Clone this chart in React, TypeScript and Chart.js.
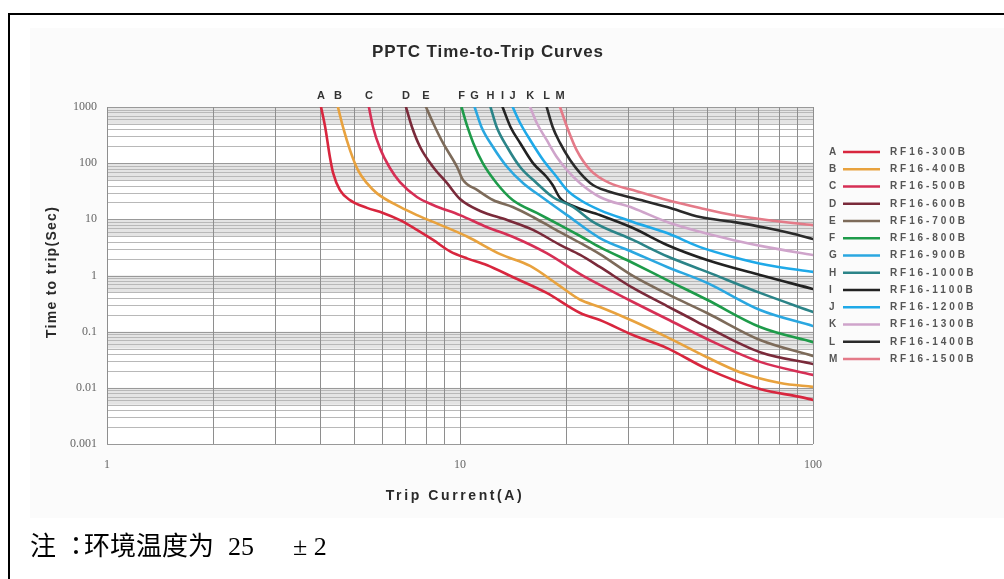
import React, { useEffect, useRef } from "react";
import { Chart, registerables } from "chart.js";

Chart.register(...registerables);

// ---- data ----
const curveLetters = ["A", "B", "C", "D", "E", "F", "G", "H", "I", "J", "K", "L", "M"];
const partNumbers = [
  "RF16-300B", "RF16-400B", "RF16-500B", "RF16-600B", "RF16-700B", "RF16-800B", "RF16-900B",
  "RF16-1000B", "RF16-1100B", "RF16-1200B", "RF16-1300B", "RF16-1400B", "RF16-1500B",
];
const curveColors = [
  "#d8263e", "#e8a23e", "#d62f55", "#7a2a3a", "#7d6b5a", "#1e9b4a", "#2aa7e0",
  "#2b8488", "#222222", "#1fa9e8", "#cfa4cb", "#2a2a2a", "#e47a88",
];

const aCurrent = [4.04, 4.15, 4.28, 4.37, 4.57, 4.88, 5.45, 6.05, 6.76, 7.55, 8.39, 9.37, 10.5, 11.9, 14.1, 17.6, 21.9, 24.9, 30.9, 38.6, 50.1, 70.8, 91.8, 100];
const aTime = [1000, 441, 129, 67, 33, 22, 16, 13, 9.7, 6.5, 4.3, 2.7, 2.0, 1.54, 0.94, 0.49, 0.215, 0.161, 0.087, 0.051, 0.0217, 0.0095, 0.0069, 0.0061];

const bCurrent = [4.51, 4.66, 4.88, 5.14, 5.45, 5.82, 6.76, 7.55, 8.39, 10.5, 13.0, 15.8, 18.8, 21.9, 24.9, 30.9, 38.6, 50.1, 62.1, 80.7, 100];
const bTime = [1000, 441, 171, 75, 44, 29, 16.6, 11.9, 9.0, 4.9, 2.4, 1.48, 0.71, 0.37, 0.275, 0.155, 0.08, 0.035, 0.019, 0.0122, 0.0104];

const cCurrent = [5.52, 5.67, 5.93, 6.33, 6.76, 7.55, 8.39, 10.0, 11.9, 14.1, 17.6, 21.9, 24.9, 30.9, 38.6, 50.1, 70.8, 100];
const cTime = [1000, 441, 186, 82, 46, 25, 18, 11.9, 7.3, 4.9, 2.5, 1.06, 0.68, 0.337, 0.168, 0.074, 0.029, 0.017];

const dCurrent = [7.03, 7.31, 7.71, 8.39, 9.19, 10.0, 11.4, 13.6, 16.1, 19.2, 21.9, 24.9, 30.9, 38.6, 44.8, 50.1, 70.8, 100];
const dTime = [1000, 441, 194, 85.5, 44, 23, 14.1, 9.7, 6.5, 3.5, 2.32, 1.42, 0.6, 0.286, 0.175, 0.121, 0.043, 0.0266];

const eCurrent = [8.01, 8.39, 8.95, 9.81, 10.2, 11.2, 12.4, 14.1, 16.1, 18.3, 21.9, 24.9, 30.9, 38.6, 50.1, 70.8, 100];
const eTime = [1000, 519, 229, 85.5, 50.1, 33.2, 22.1, 16.6, 11, 7.0, 3.8, 2.4, 0.98, 0.47, 0.215, 0.071, 0.037];

const fCurrent = [10.1, 10.5, 10.9, 11.6, 12.7, 14.1, 16.5, 19.2, 21.9, 24.9, 30.9, 38.6, 50.1, 70.8, 100];
const fTime = [1000, 441, 229, 100, 44, 22.1, 13, 7.9, 5.05, 3.2, 1.67, 0.83, 0.37, 0.121, 0.065];

const gCurrent = [11.0, 11.5, 12.4, 13.6, 15.1, 17.2, 20.1, 24.9, 30.9, 38.6, 50.1, 70.8, 100];
const gTime = [1000, 441, 194, 85.5, 44, 24, 11.9, 4.65, 2.6, 1.42, 0.74, 0.243, 0.126];

const hCurrent = [12.2, 12.7, 13.6, 14.8, 16.5, 18.3, 20.9, 23.8, 30.9, 38.6, 50.1, 70.8, 100];
const hTime = [1000, 441, 194, 85.5, 44, 25, 16.6, 9.0, 4.3, 2.2, 1.16, 0.49, 0.224];

const iCurrent = [13.2, 13.9, 14.8, 16.1, 17.6, 18.3, 19.2, 20.9, 24.9, 30.9, 38.6, 50.1, 70.8, 100];
const iTime = [1000, 441, 229, 100, 56.7, 40.8, 24, 17.3, 11.9, 7.0, 3.5, 1.89, 1.02, 0.575];

const jCurrent = [14.1, 14.8, 15.8, 17.2, 18.8, 20.1, 21.9, 24.9, 30.9, 38.6, 47.9, 59.3, 74.1, 100];
const jTime = [1000, 519, 259, 114, 56.7, 33.2, 22.1, 14.6, 9.0, 5.7, 3.2, 2.14, 1.54, 1.16];

const kCurrent = [15.8, 16.5, 17.6, 18.8, 20.1, 21.9, 24.9, 30.9, 38.6, 47.9, 59.3, 74.1, 100];
const kTime = [1000, 519, 259, 129, 75.5, 44, 25, 15.9, 9.0, 6.0, 4.3, 3.2, 2.32];

const lCurrent = [17.6, 18.3, 19.2, 20.5, 21.9, 23.8, 26.1, 30.9, 38.6, 47.9, 59.3, 74.1, 86.1, 100];
const lTime = [1000, 441, 229, 114, 66.8, 40.8, 32, 24, 16.6, 11, 9.0, 7.0, 5.7, 4.47];

const mCurrent = [19.2, 20.1, 21.4, 23.4, 26.6, 30.9, 38.6, 47.9, 59.3, 74.1, 100];
const mTime = [1000, 441, 171, 75.5, 44, 33.2, 22.1, 15.9, 11.9, 9.7, 7.9];

const yTickValues = [0.001, 0.01, 0.1, 1, 10, 100, 1000];
const yTickLabels = ["0.001", "0.01", "0.1", "1", "10", "100", "1000"];
const xTickValues = [1, 10, 100];
const xTickLabels = ["1", "10", "100"];
const minorSteps = [1, 2, 3, 4, 5, 6, 7, 8, 9];

const chartTitle = "PPTC Time-to-Trip Curves";
const xTitle = "Trip Current(A)";
const yTitle = "Time to trip(Sec)";
const noteHead = "注";
const noteColon = "：";
const noteCn = "环境温度为";
const noteTemp = "25";
const noteTol = "± 2";

const seriesCurrent = [aCurrent, bCurrent, cCurrent, dCurrent, eCurrent, fCurrent, gCurrent, hCurrent, iCurrent, jCurrent, kCurrent, lCurrent, mCurrent];
const seriesTime = [aTime, bTime, cTime, dTime, eTime, fTime, gTime, hTime, iTime, jTime, kTime, lTime, mTime];

function labelFor(values: number[], labels: string[], v: number): string {
  const idx = values.findIndex((t) => Math.abs(Math.log10(t) - Math.log10(v)) < 1e-6);
  return idx >= 0 ? labels[idx] : "";
}

const framePlugin = {
  id: "pptcFrame",
  beforeDraw(chart: any) {
    const { ctx, width, height } = chart;
    ctx.save();
    ctx.fillStyle = "#ffffff";
    ctx.fillRect(0, 0, width, height);
    ctx.fillStyle = "#fbfbfb";
    ctx.fillRect(30, 28, width - 30, 490);
    ctx.fillStyle = "#000000";
    ctx.fillRect(8, 13, 2, height - 13);
    ctx.fillRect(8, 13, width - 8, 2);
    ctx.restore();
  },
};

const gridPlugin = {
  id: "pptcGrid",
  beforeDatasetsDraw(chart: any) {
    const { ctx, chartArea: a, scales } = chart;
    const xs = scales.x;
    const ys = scales.y;
    ctx.save();
    ctx.fillStyle = "#ffffff";
    ctx.fillRect(a.left, a.top, a.right - a.left, a.bottom - a.top);
    // grey bands under each decade
    ctx.fillStyle = "#e4e4e4";
    for (const d of yTickValues) {
      if (d <= yTickValues[0]) continue;
      const top = ys.getPixelForValue(d);
      const bot = ys.getPixelForValue(d / 2);
      ctx.fillRect(a.left, top, a.right - a.left, bot - top);
    }
    ctx.lineWidth = 1;
    // horizontal lines
    const hLines: number[] = [];
    for (let i = 0; i < yTickValues.length - 1; i++) {
      for (const m of minorSteps) hLines.push(yTickValues[i] * m);
    }
    hLines.push(yTickValues[yTickValues.length - 1]);
    for (const v of hLines) {
      const y = Math.round(ys.getPixelForValue(v)) + 0.5;
      const isDecade = yTickValues.some((t) => Math.abs(t - v) / t < 1e-9);
      ctx.strokeStyle = isDecade ? "#999999" : "#b8b8b8";
      ctx.beginPath();
      ctx.moveTo(a.left, y);
      ctx.lineTo(a.right, y);
      ctx.stroke();
    }
    // vertical lines
    const vLines: number[] = [];
    for (let i = 0; i < xTickValues.length - 1; i++) {
      for (const m of minorSteps) vLines.push(xTickValues[i] * m);
    }
    vLines.push(xTickValues[xTickValues.length - 1]);
    ctx.strokeStyle = "#8e8e8e";
    for (const v of vLines) {
      const x = Math.round(xs.getPixelForValue(v)) + 0.5;
      ctx.beginPath();
      ctx.moveTo(x, a.top);
      ctx.lineTo(x, a.bottom);
      ctx.stroke();
    }
    ctx.restore();
  },
};

const textPlugin = {
  id: "pptcText",
  afterDraw(chart: any) {
    const { ctx, chartArea: a, scales } = chart;
    const xs = scales.x;
    ctx.save();
    // title
    ctx.fillStyle = "#2a2a2a";
    ctx.font = "bold 17px 'Liberation Sans', Arial, sans-serif";
    ctx.textAlign = "center";
    ctx.textBaseline = "alphabetic";
    (ctx as any).letterSpacing = "0.9px";
    ctx.fillText(chartTitle, 488, 57);

    // curve letters along the top
    (ctx as any).letterSpacing = "0px";
    ctx.font = "bold 11px 'Liberation Sans', Arial, sans-serif";
    ctx.fillStyle = "#333333";
    ctx.textBaseline = "middle";
    chart.data.datasets.forEach((ds: any, i: number) => {
      const x = xs.getPixelForValue(ds.data[0].x);
      ctx.fillText(curveLetters[i], x, a.top - 11);
    });

    // legend
    const legTop = 152;
    const legStep = 17.25;
    chart.data.datasets.forEach((ds: any, i: number) => {
      const y = legTop + i * legStep;
      ctx.textAlign = "left";
      ctx.textBaseline = "middle";
      ctx.fillStyle = "#555555";
      ctx.font = "bold 10px 'Liberation Sans', Arial, sans-serif";
      (ctx as any).letterSpacing = "0px";
      ctx.fillText(curveLetters[i], 829, y);
      ctx.strokeStyle = ds.borderColor;
      ctx.lineWidth = 2.5;
      ctx.beginPath();
      ctx.moveTo(843, y);
      ctx.lineTo(880, y);
      ctx.stroke();
      (ctx as any).letterSpacing = "2.9px";
      ctx.fillText(ds.label, 890, y);
    });

    // axis titles
    ctx.fillStyle = "#2a2a2a";
    ctx.font = "bold 14px 'Liberation Sans', Arial, sans-serif";
    ctx.textAlign = "center";
    ctx.textBaseline = "middle";
    (ctx as any).letterSpacing = "2.6px";
    ctx.fillText(xTitle, 455, 496);
    ctx.save();
    ctx.translate(52, 272);
    ctx.rotate(-Math.PI / 2);
    (ctx as any).letterSpacing = "1.3px";
    ctx.fillText(yTitle, 0, 0);
    ctx.restore();

    // note
    (ctx as any).letterSpacing = "0px";
    ctx.textAlign = "left";
    ctx.textBaseline = "alphabetic";
    ctx.fillStyle = "#000000";
    ctx.font = "26px 'Noto Sans CJK SC', sans-serif";
    ctx.fillText(noteHead, 30, 555);
    ctx.font = "26px 'Noto Sans CJK TC', 'Noto Sans CJK JP', sans-serif";
    ctx.fillText(noteColon, 63, 555);
    ctx.font = "26px 'Noto Sans CJK SC', sans-serif";
    ctx.fillText(noteCn, 84, 555);
    ctx.font = "26px 'Liberation Serif', 'Times New Roman', serif";
    ctx.fillText(noteTemp, 228, 555);
    ctx.fillText(noteTol, 293, 555);
    ctx.restore();
  },
};

export default function App() {
  const canvasRef = useRef<HTMLCanvasElement | null>(null);

  useEffect(() => {
    const canvas = canvasRef.current;
    if (!canvas) return;
    const datasets = seriesCurrent.map((xsArr, i) => ({
      label: partNumbers[i],
      data: xsArr.map((x, k) => ({ x, y: seriesTime[i][k] })),
      borderColor: curveColors[i],
      backgroundColor: curveColors[i],
      borderWidth: 2.6,
      pointRadius: 0,
      fill: false,
      cubicInterpolationMode: "monotone" as const,
      borderCapStyle: "round" as const,
      borderJoinStyle: "round" as const,
    }));

    const chart = new Chart(canvas, {
      type: "line",
      data: { datasets },
      options: {
        animation: false,
        responsive: false,
        devicePixelRatio: 1,
        events: [],
        layout: { padding: { left: 50, top: 107, right: 191, bottom: 105 } },
        plugins: {
          legend: { display: false },
          title: { display: false },
          tooltip: { enabled: false },
        },
        scales: {
          x: {
            type: "logarithmic",
            min: 1,
            max: 100,
            grid: { display: false, drawTicks: false },
            border: { display: false },
            afterFit: (s: any) => {
              s.height = 30;
            },
            afterBuildTicks: (s: any) => {
              s.ticks = xTickValues.map((v) => ({ value: v }));
            },
            ticks: {
              autoSkip: false,
              maxRotation: 0,
              padding: 14,
              color: "#666666",
              font: { family: "'Liberation Serif', serif", size: 12 },
              callback: (v: any) => labelFor(xTickValues, xTickLabels, Number(v)),
            },
          },
          y: {
            type: "logarithmic",
            min: 0.001,
            max: 1000,
            grid: { display: false, drawTicks: false },
            border: { display: false },
            afterFit: (s: any) => {
              s.width = 57;
            },
            afterBuildTicks: (s: any) => {
              s.ticks = yTickValues.map((v) => ({ value: v }));
            },
            ticks: {
              autoSkip: false,
              padding: 10,
              color: "#666666",
              font: { family: "'Liberation Serif', serif", size: 12 },
              callback: (v: any) => labelFor(yTickValues, yTickLabels, Number(v)),
            },
          },
        },
      },
      plugins: [framePlugin, gridPlugin, textPlugin],
    });
    return () => chart.destroy();
  }, []);

  return (
    <canvas
      ref={canvasRef}
      width={1004}
      height={579}
      style={{ position: "fixed", left: 0, top: 0, width: 1004, height: 579 }}
    />
  );
}
